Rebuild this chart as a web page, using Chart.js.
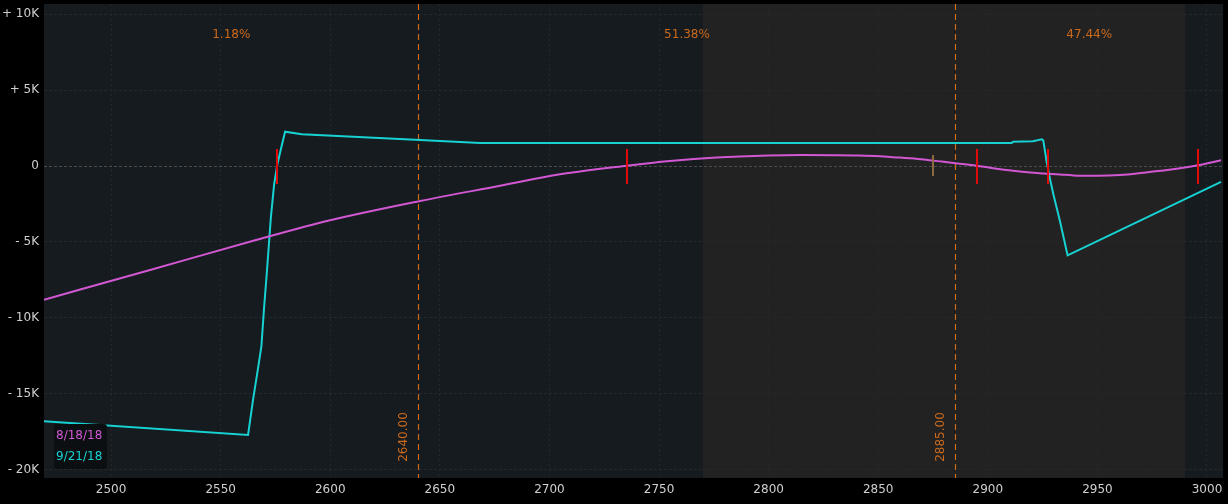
<!DOCTYPE html>
<html><head><meta charset="utf-8">
<script src="https://cdn.jsdelivr.net/npm/chart.js@4/dist/chart.umd.min.js"></script>
<style>html,body{margin:0;padding:0;background:#000;overflow:hidden}#wrap{width:1228px;height:504px}</style>
</head><body><div id="wrap"><canvas id="c" width="1228" height="504"></canvas></div>
<script>
// ---- data ----
const xTicks = [2500,2550,2600,2650,2700,2750,2800,2850,2900,2950,3000];
const yTicks = [-20000,-15000,-10000,-5000,0,5000,10000];
const yTickLabels = ['- 20K','- 15K','- 10K','- 5K','0','+ 5K','+ 10K'];
const seriesNames = ['8/18/18','9/21/18'];

const augX = [2469.4,2517.8,2565.7,2599.9,2641.0,2677.5,2704.8,2735.3,2755.0,2776.3,2800.0,2815.0,2830.0,2841.0,2850.8,2856.9,2868.0,2879.0,2889.6,2894.9,2901.0,2911.5,2922.3,2932.9,2939.0,2950.0,2960.3,2970.9,2986.2,2996.0,3006.4];
const augY = [-8800,-6840,-4890,-3570,-2300,-1300,-550,20,330,560,690,720,710,690,640,580,460,290,110,20,-110,-310,-460,-560,-620,-640,-590,-440,-180,50,380];

const sepX = [2469.4,2562.5,2564.8,2567.1,2568.6,2569.8,2571.0,2572.9,2574.4,2575.9,2577.6,2579.4,2587.0,2641.0,2668.3,2910.9,2911.5,2920.6,2924.6,2925.3,2926.9,2928.4,2929.9,2932.9,2936.4,3006.4];
const sepY = [-16800,-17700,-15350,-13270,-11840,-9340,-7140,-3400,-1200,130,1180,2260,2090,1710,1510,1510,1600,1630,1760,1690,220,-875,-1860,-3620,-5880,-1050];

const strikeLines = [2640, 2885];
const strikeLabels = ['2640.00','2885.00'];
const probLabels = ['1.18%','51.38%','47.44%'];
const breakevens = [2575.9, 2735.3, 2895.0, 2927.5, 2996.0];
const currentPrice = 2875;
const bandRange = [2770, 2990];
const xRange = [2469.4, 3007.3];
const yRange = [-20530, 10660];

// ---- styles ----
const C_AUG = '#d257d2', C_SEP = '#17d2d2', C_ORANGE = '#cc6a1c';
const FONT = '"DejaVu Sans", sans-serif';

const overlay = {
  id: 'overlay',
  beforeDraw(chart) {
    const {ctx, chartArea: a, scales: {x}} = chart;
    ctx.save();
    ctx.fillStyle = '#161b1f';
    ctx.fillRect(a.left, a.top, a.right - a.left, a.bottom - a.top);
    const b0 = x.getPixelForValue(bandRange[0]), b1 = x.getPixelForValue(bandRange[1]);
    ctx.fillStyle = '#222222';
    ctx.fillRect(b0, a.top, b1 - b0, a.bottom - a.top);
    ctx.restore();
  },
  beforeDatasetsDraw(chart) {
    const {ctx, chartArea: a, scales: {x}} = chart;
    ctx.save();
    ctx.strokeStyle = C_ORANGE; ctx.lineWidth = 1.2; ctx.setLineDash([6,4]);
    const px = strikeLines.map(v => Math.round(x.getPixelForValue(v)) + 0.5);
    px.forEach(p => { ctx.beginPath(); ctx.moveTo(p, a.top); ctx.lineTo(p, a.bottom); ctx.stroke(); });
    ctx.setLineDash([]);
    ctx.fillStyle = C_ORANGE; ctx.font = '12px ' + FONT; ctx.textAlign = 'center'; ctx.textBaseline = 'middle';
    const bounds = [a.left, ...px, a.right];
    probLabels.forEach((t, i) => ctx.fillText(t, (bounds[i] + bounds[i+1]) / 2, 35));
    px.forEach((p, i) => {
      ctx.save(); ctx.translate(p - 15, 437); ctx.rotate(-Math.PI/2);
      ctx.fillText(strikeLabels[i], 0, 0); ctx.restore();
    });
    ctx.restore();
  },
  afterDatasetsDraw(chart) {
    const {ctx, chartArea: a, scales: {x, y}} = chart;
    ctx.save();
    const y0 = y.getPixelForValue(0);
    ctx.lineWidth = 2;
    ctx.strokeStyle = '#e00a0a';
    breakevens.forEach(v => { const p = Math.round(x.getPixelForValue(v)); ctx.beginPath(); ctx.moveTo(p, y0 - 17); ctx.lineTo(p, y0 + 18); ctx.stroke(); });
    ctx.strokeStyle = '#8a6a3e';
    const cp = Math.round(x.getPixelForValue(currentPrice));
    ctx.beginPath(); ctx.moveTo(cp, y0 - 11); ctx.lineTo(cp, y0 + 10); ctx.stroke();
    // legend box
    const lx = a.left + 10, ly = a.bottom - 54;
    ctx.fillStyle = '#0c0f12';
    ctx.beginPath(); ctx.roundRect(lx, ly, 53, 45, 3); ctx.fill();
    ctx.font = '12px ' + FONT; ctx.textAlign = 'left'; ctx.textBaseline = 'middle';
    const cols = [C_AUG, C_SEP];
    seriesNames.forEach((n, i) => { ctx.fillStyle = cols[i]; ctx.fillText(n, lx + 2, ly + 12 + i * 21); });
    ctx.restore();
  }
};

const toPts = (xs, ys) => xs.map((v, i) => ({x: v, y: ys[i]}));

new Chart(document.getElementById('c'), {
  type: 'line',
  data: {
    datasets: [
      {label: seriesNames[0], data: toPts(augX, augY), borderColor: C_AUG, borderWidth: 2, pointRadius: 0, cubicInterpolationMode: 'monotone'},
      {label: seriesNames[1], data: toPts(sepX, sepY), borderColor: C_SEP, borderWidth: 2, pointRadius: 0, tension: 0}
    ]
  },
  options: {
    responsive: false, animation: false,
    layout: {padding: {top: 4, right: 5, left: 0, bottom: 0}},
    plugins: {legend: {display: false}, tooltip: {enabled: false}},
    scales: {
      x: {
        type: 'linear', min: xRange[0], max: xRange[1],
        afterBuildTicks: s => { s.ticks = xTicks.map(v => ({value: v})); },
        afterFit: s => { s.height = 26; s.paddingLeft = 0; s.paddingRight = 0; },
        ticks: {color: '#cfcfcf', font: {family: FONT, size: 12}, padding: 5, maxRotation: 0, callback: v => String(v)},
        grid: {color: '#23282c', drawTicks: false},
        border: {display: false, dash: [2,3]}
      },
      y: {
        type: 'linear', min: yRange[0], max: yRange[1],
        afterBuildTicks: s => { s.ticks = yTicks.map(v => ({value: v})); },
        afterFit: s => { s.width = 44; s.paddingTop = 0; s.paddingBottom = 0; },
        ticks: {color: '#cfcfcf', font: {family: FONT, size: 12}, padding: 5, callback: v => yTickLabels[yTicks.indexOf(v)]},
        grid: {color: c => c.tick && c.tick.value === 0 ? '#4a4a4a' : '#23282c', drawTicks: false},
        border: {display: false, dash: [3,2]}
      }
    }
  },
  plugins: [overlay]
});
</script></body></html>
